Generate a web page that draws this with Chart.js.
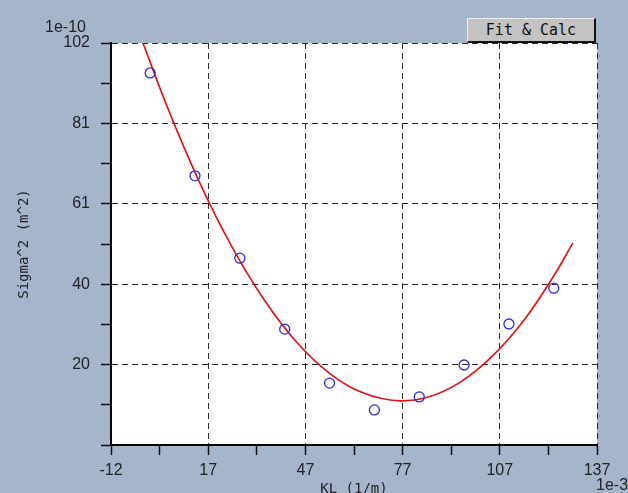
<!DOCTYPE html>
<html>
<head>
<meta charset="utf-8">
<script src="https://cdn.jsdelivr.net/npm/chart.js@4/dist/chart.umd.min.js"></script>
<style>
	body { margin: 0; background: #a5b5cb; overflow: hidden; }
	#wrap { position: relative; width: 628px; height: 493px; overflow: hidden; }
	#chart { position: absolute; left: 0; top: 0; }
	.exp { position: absolute; font: 16px "Liberation Sans", Arial, sans-serif; color: #222; white-space: nowrap; }
	#btn {
		position: absolute; left: 467px; top: 18px; width: 126px; height: 22px;
		background: #c3c3c3; border-top: 1px solid #eee; border-left: 1px solid #eee;
		border-right: 2px solid #111; border-bottom: 2px solid #111;
		font: 15px "DejaVu Sans Mono", monospace; color: #111; text-align: center; line-height: 22px;
	}
</style>
</head>
<body>
<div id="wrap">
	<canvas id="chart" width="628" height="493"></canvas>
	<div class="exp" style="left:45px; top:18px;">1e-10</div>
	<div class="exp" style="left:596px; top:476px;">1e-3</div>
	<div id="btn">Fit &amp; Calc</div>
</div>
<script>
// mesures (points bleus)
const measX = [0, 13.75, 27.5, 41.25, 55, 68.75, 82.5, 96.25, 110, 123.75];
const measY = [94.4, 68.3, 47.4, 29.4, 15.7, 8.9, 12.2, 20.3, 30.7, 39.8];

// courbe du fit (rouge)
const fitX = [-2.2, 5, 15, 25, 35, 45, 55, 65, 77, 85, 95, 105, 115, 125, 129.6];
const fitY = [102, 86.3, 66.9, 50.4, 36.8, 26.0, 18.2, 13.3, 11.2, 12.1, 15.9, 22.6, 32.1, 44.6, 51.3];

// graduations (les vides = petites graduations)
const xTickValues = [-12, 2.9, 17.8, 32.7, 47.6, 62.5, 77.4, 92.3, 107.2, 122.1, 137];
const xTickLabels = ['-12', '', '17', '', '47', '', '77', '', '107', '', '137'];
const yTickValues = [0, 10.2, 20.4, 30.6, 40.8, 51, 61.2, 71.4, 81.6, 91.8, 102];
const yTickLabels = ['', '', '20', '', '40', '', '61', '', '81', '', '102'];

const tickFont = { family: 'Liberation Sans', size: 16 };
const titleFont = { family: 'DejaVu Sans Mono', size: 14 };

const whiteArea = { // fond blanc de la zone de tracé
	id: 'whiteArea',
	beforeDraw(chart) {
		const a = chart.chartArea, ctx = chart.ctx;
		ctx.save();
		ctx.fillStyle = '#fff';
		ctx.fillRect(a.left, a.top, a.right - a.left, a.bottom - a.top);
		ctx.restore();
	}
};

function gridOpts(labels) {
	return {
		color: (c) => labels[c.index] ? '#2a2a2a' : 'rgba(0,0,0,0)',
		lineWidth: 1,
		tickColor: '#111',
		tickLength: 10,
		tickWidth: 1.5
	};
}

new Chart(document.getElementById('chart'), {
	type: 'scatter',
	data: {
		datasets: [
			{
				label: 'mesures',
				data: measX.map((x, i) => ({ x: x, y: measY[i] })),
				pointRadius: 5,
				pointHoverRadius: 5,
				borderColor: '#2b2bd0',
				backgroundColor: 'rgba(0,0,0,0)',
				borderWidth: 1.3
			},
			{
				type: 'line',
				label: 'fit',
				data: fitX.map((x, i) => ({ x: x, y: fitY[i] })),
				borderColor: '#e01010',
				borderWidth: 1.6,
				pointRadius: 0,
				cubicInterpolationMode: 'monotone',
				fill: false
			}
		]
	},
	options: {
		responsive: false,
		animation: false,
		layout: { padding: { left: 0, top: 43, right: 31, bottom: 0 } },
		plugins: { legend: { display: false }, tooltip: { enabled: false } },
		scales: {
			x: {
				type: 'linear', min: -12, max: 137,
				afterBuildTicks: (s) => { s.ticks = xTickValues.map(v => ({ value: v })); },
				afterFit: (s) => { s.height = 48; },
				ticks: { autoSkip: false, maxRotation: 0, padding: 6, color: '#222', font: tickFont,
					callback: (v, i) => xTickLabels[i] },
				grid: gridOpts(xTickLabels),
				border: { color: '#000', width: 2, dash: [6, 4] },
				title: { display: true, text: 'KL (1/m)', color: '#222', font: titleFont, padding: { top: 0, bottom: -5 } }
			},
			y: {
				type: 'linear', min: 0, max: 102,
				afterBuildTicks: (s) => { s.ticks = yTickValues.map(v => ({ value: v })); },
				afterFit: (s) => { s.width = 111; },
				ticks: { autoSkip: false, padding: 11, color: '#222', font: tickFont,
					callback: (v, i) => yTickLabels[i] },
				grid: gridOpts(yTickLabels),
				border: { color: '#000', width: 2, dash: [6, 4] },
				title: { display: true, text: 'Sigma^2 (m^2)', color: '#222', font: titleFont, padding: { top: 16, bottom: 0 } }
			}
		}
	},
	plugins: [whiteArea]
});
</script>
</body>
</html>
